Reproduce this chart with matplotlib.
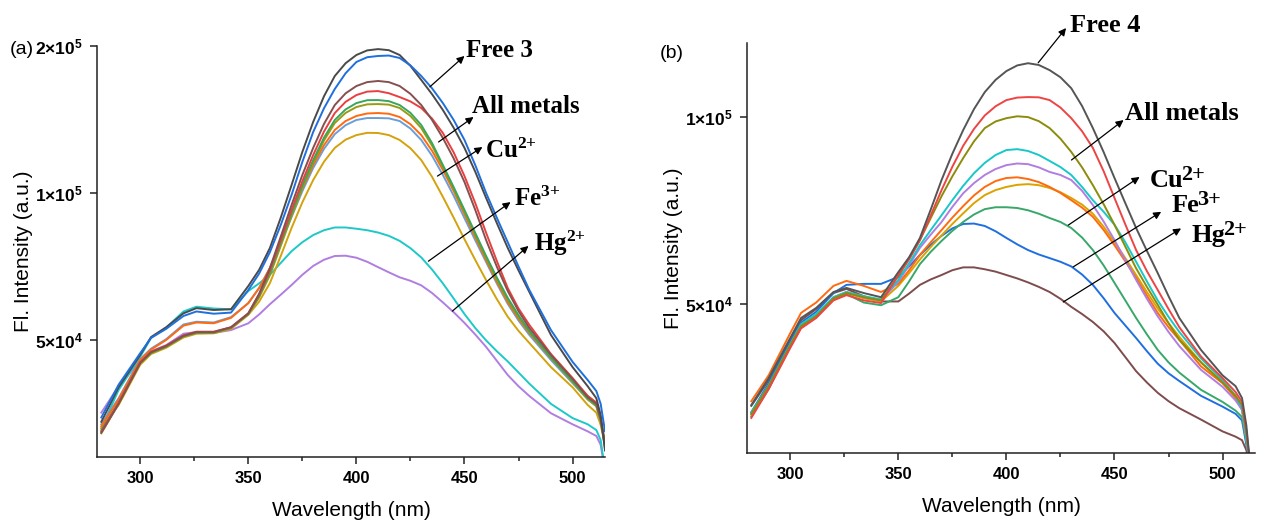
import numpy as np
import matplotlib
matplotlib.use('Agg')
import matplotlib.pyplot as plt
from matplotlib.ticker import FixedLocator, FixedFormatter, NullLocator

plt.rcParams['font.family'] = 'Liberation Sans'
plt.rcParams['mathtext.fontset'] = 'custom'
plt.rcParams['mathtext.rm'] = 'Liberation Serif:bold'
plt.rcParams['mathtext.it'] = 'Liberation Serif:bold'
plt.rcParams['mathtext.bf'] = 'Liberation Serif:bold'
plt.rcParams['mathtext.sf'] = 'Liberation Sans:bold'

# ---- panel (a): probe 3 with metal ions, intensity in units of 1e4 ----
wl_a = [282, 290, 300, 305, 312, 320, 326, 334, 342, 350, 355, 360, 365, 370, 375, 380, 385, 390,
        395, 400, 405, 410, 415, 420, 425, 430, 435, 440, 445, 450, 455, 460, 465, 470, 475, 480,
        490, 500, 507, 511, 513, 515]

a_free = [3.40, 4.00, 4.66, 5.07, 5.31, 5.67, 5.81, 5.76, 5.78,
          6.45, 6.96, 7.72, 8.90, 10.38, 12.14, 13.98, 15.78, 17.36, 18.44, 19.17, 19.59, 19.71, 19.61,
          19.17, 18.21, 17.04, 15.93, 14.79, 13.60, 12.37, 11.05, 9.77, 8.67, 7.72, 6.94, 6.27,
          5.12, 4.40, 4.02, 3.80, 3.51, 2.97]
a_blue = [3.47, 4.05, 4.70, 5.05, 5.27, 5.60, 5.72, 5.66, 5.69,
          6.33, 6.84, 7.57, 8.60, 9.91, 11.58, 13.33, 14.91, 16.33, 17.59, 18.55, 18.97, 19.08, 19.12,
          18.90, 18.25, 17.36, 16.38, 15.28, 14.11, 12.84, 11.40, 10.00, 8.89, 7.93, 7.07, 6.33,
          5.24, 4.51, 4.14, 3.93, 3.70, 3.25]
a_brown = [3.23, 3.70, 4.49, 4.72, 4.86, 5.10, 5.19, 5.19, 5.31,
           5.67, 6.22, 7.02, 8.14, 9.45, 10.89, 12.37, 13.85, 15.14, 16.00, 16.56, 16.87, 16.96, 16.87,
           16.56, 15.96, 15.14, 14.11, 12.96, 11.77, 10.53, 9.23, 8.01, 7.06, 6.30, 5.73, 5.29,
           4.66, 4.16, 3.82, 3.70, 3.45, 3.05]
a_red = [3.25, 3.72, 4.50, 4.73, 4.87, 5.11, 5.20, 5.20, 5.31,
         5.67, 6.19, 6.95, 8.00, 9.23, 10.57, 11.96, 13.36, 14.58, 15.37, 15.87, 16.13, 16.17, 16.01,
         15.72, 15.40, 14.93, 14.20, 13.27, 12.11, 10.83, 9.53, 8.29, 7.25, 6.39, 5.80, 5.37,
         4.68, 4.18, 3.84, 3.72, 3.46, 3.05]
a_green = [3.27, 3.72, 4.49, 4.71, 4.85, 5.09, 5.18, 5.18, 5.30,
           5.65, 6.15, 6.88, 7.91, 9.10, 10.38, 11.68, 12.98, 14.11, 14.83, 15.28, 15.49, 15.50, 15.42,
           15.14, 14.59, 13.78, 12.65, 11.41, 10.28, 9.23, 8.28, 7.43, 6.71, 6.10, 5.62, 5.22,
           4.61, 4.12, 3.80, 3.68, 3.43, 3.09]
a_olive = [3.22, 3.70, 4.48, 4.70, 4.84, 5.08, 5.17, 5.17, 5.29,
           5.65, 6.11, 6.79, 7.79, 8.97, 10.23, 11.52, 12.81, 13.91, 14.59, 15.00, 15.19, 15.21, 15.17,
           14.93, 14.38, 13.58, 12.50, 11.31, 10.19, 9.14, 8.20, 7.36, 6.64, 6.04, 5.57, 5.19,
           4.59, 4.10, 3.78, 3.66, 3.41, 3.05]
a_orange = [3.33, 3.78, 4.55, 4.78, 5.00, 5.35, 5.43, 5.41, 5.55,
            5.95, 6.39, 7.02, 7.93, 9.01, 10.21, 11.41, 12.53, 13.46, 14.04, 14.38, 14.55, 14.58, 14.53,
            14.31, 13.83, 13.14, 12.20, 11.15, 10.09, 9.05, 8.12, 7.29, 6.58, 5.98, 5.53, 5.17,
            4.59, 4.14, 3.84, 3.72, 3.46, 3.00]
a_steel = [3.36, 3.80, 4.57, 4.80, 5.02, 5.38, 5.45, 5.43, 5.57,
           5.95, 6.39, 7.02, 7.90, 8.93, 10.09, 11.25, 12.31, 13.20, 13.77, 14.11, 14.24, 14.24, 14.22,
           14.04, 13.55, 12.84, 11.92, 10.89, 9.87, 8.88, 8.00, 7.22, 6.52, 5.93, 5.48, 5.12,
           4.55, 4.08, 3.78, 3.66, 3.41, 3.03]
a_gold = [3.30, 3.68, 4.45, 4.68, 4.82, 5.06, 5.15, 5.16, 5.27,
          5.63, 5.99, 6.54, 7.43, 8.48, 9.57, 10.63, 11.59, 12.37, 12.86, 13.14, 13.28, 13.27, 13.14,
          12.84, 12.35, 11.68, 10.79, 9.82, 8.90, 8.04, 7.29, 6.63, 6.06, 5.58, 5.22, 4.93,
          4.40, 4.00, 3.68, 3.55, 3.35, 3.05]
a_cyan = [3.30, 3.95, 4.62, 5.05, 5.30, 5.72, 5.85, 5.80, 5.78,
          6.30, 6.53, 6.80, 7.19, 7.60, 7.93, 8.20, 8.39, 8.50, 8.50, 8.45, 8.39, 8.30, 8.17,
          7.98, 7.71, 7.38, 6.97, 6.53, 6.08, 5.65, 5.29, 4.99, 4.74, 4.52, 4.29, 4.07,
          3.70, 3.46, 3.36, 3.27, 3.12, 2.70]
a_purple = [3.55, 4.02, 4.53, 4.74, 4.88, 5.15, 5.19, 5.17, 5.24,
            5.41, 5.64, 5.92, 6.19, 6.48, 6.80, 7.09, 7.30, 7.43, 7.44, 7.37, 7.23, 7.05, 6.88,
            6.72, 6.61, 6.47, 6.24, 5.97, 5.70, 5.42, 5.13, 4.84, 4.53, 4.24, 4.02, 3.84,
            3.54, 3.36, 3.25, 3.18, 3.05, 2.70]

# ---- panel (b): probe 4 with metal ions ----
wl_b = [282, 290, 300, 305, 312, 320, 326, 334, 342, 350, 355, 360, 365, 370, 375, 380, 385, 390,
        395, 400, 405, 410, 415, 420, 425, 430, 435, 440, 445, 450, 455, 460, 465, 470, 475, 480,
        490, 500, 506, 509, 511, 513]

b_free = [3.44, 3.80, 4.41, 4.75, 4.93, 5.23, 5.31, 5.21, 5.13,
          5.63, 5.95, 6.39, 7.10, 7.92, 8.73, 9.53, 10.30, 10.97, 11.48, 11.86, 12.11, 12.21, 12.13,
          11.90, 11.59, 11.13, 10.42, 9.60, 8.78, 7.98, 7.27, 6.63, 6.09, 5.61, 5.15, 4.75,
          4.22, 3.84, 3.69, 3.53, 3.19, 2.70]
b_red = [3.28, 3.65, 4.25, 4.57, 4.75, 5.07, 5.17, 5.07, 5.02,
         5.57, 5.91, 6.34, 6.95, 7.63, 8.32, 8.99, 9.57, 10.06, 10.41, 10.65, 10.75, 10.77, 10.76,
         10.65, 10.36, 9.96, 9.49, 8.92, 8.18, 7.41, 6.72, 6.11, 5.65, 5.27, 4.91, 4.59,
         4.12, 3.80, 3.61, 3.48, 3.13, 2.70]
b_olive = [3.33, 3.69, 4.30, 4.61, 4.78, 5.11, 5.21, 5.13, 5.07,
           5.55, 5.91, 6.34, 6.88, 7.46, 8.03, 8.59, 9.14, 9.60, 9.84, 9.96, 10.03, 10.00, 9.85,
           9.60, 9.23, 8.79, 8.30, 7.77, 7.24, 6.71, 6.19, 5.71, 5.33, 4.99, 4.66, 4.38,
           4.03, 3.74, 3.56, 3.44, 3.10, 2.70]
b_cyan = [3.35, 3.70, 4.31, 4.64, 4.82, 5.13, 5.23, 5.15, 5.09,
          5.47, 5.82, 6.22, 6.58, 6.95, 7.35, 7.75, 8.12, 8.44, 8.69, 8.85, 8.88, 8.82, 8.69,
          8.50, 8.31, 8.07, 7.72, 7.35, 7.04, 6.71, 6.29, 5.85, 5.44, 5.07, 4.77, 4.51,
          4.09, 3.77, 3.56, 3.40, 3.04, 2.70]
b_purple = [3.33, 3.69, 4.30, 4.63, 4.80, 5.13, 5.23, 5.13, 5.07,
            5.43, 5.78, 6.16, 6.47, 6.78, 7.17, 7.54, 7.83, 8.07, 8.25, 8.37, 8.42, 8.40, 8.30,
            8.16, 8.07, 7.92, 7.61, 7.22, 6.79, 6.34, 5.89, 5.47, 5.10, 4.78, 4.51, 4.28,
            3.92, 3.68, 3.50, 3.38, 3.04, 2.70]
b_orange = [3.49, 3.84, 4.49, 4.84, 5.03, 5.35, 5.45, 5.35, 5.23,
            5.39, 5.67, 6.00, 6.29, 6.58, 6.89, 7.19, 7.48, 7.72, 7.89, 7.98, 8.00, 7.95, 7.86,
            7.72, 7.55, 7.35, 7.15, 6.91, 6.58, 6.22, 5.86, 5.51, 5.16, 4.84, 4.59, 4.38,
            3.97, 3.73, 3.53, 3.38, 3.05, 2.70]
b_gold = [3.32, 3.68, 4.28, 4.61, 4.78, 5.11, 5.21, 5.11, 5.05,
          5.35, 5.61, 5.90, 6.18, 6.45, 6.73, 7.00, 7.27, 7.49, 7.63, 7.72, 7.78, 7.80, 7.77,
          7.69, 7.57, 7.41, 7.23, 6.99, 6.66, 6.29, 5.93, 5.57, 5.23, 4.92, 4.66, 4.43,
          4.03, 3.74, 3.55, 3.40, 3.06, 2.70]
b_green = [3.30, 3.65, 4.27, 4.59, 4.76, 5.09, 5.19, 5.03, 4.98,
           5.13, 5.44, 5.80, 6.07, 6.32, 6.56, 6.78, 6.97, 7.11, 7.16, 7.16, 7.14, 7.08, 6.99,
           6.88, 6.78, 6.63, 6.40, 6.11, 5.77, 5.41, 5.07, 4.75, 4.47, 4.22, 4.03, 3.88,
           3.64, 3.48, 3.37, 3.29, 3.00, 2.70]
b_blue = [3.35, 3.73, 4.35, 4.67, 4.86, 5.21, 5.37, 5.39, 5.39,
          5.53, 5.75, 6.00, 6.23, 6.44, 6.62, 6.73, 6.74, 6.68, 6.55, 6.39, 6.24, 6.11, 6.01,
          5.93, 5.85, 5.75, 5.58, 5.37, 5.11, 4.84, 4.62, 4.41, 4.20, 4.01, 3.87, 3.76,
          3.56, 3.42, 3.33, 3.25, 2.97, 2.70]
b_brown = [3.43, 3.77, 4.38, 4.71, 4.91, 5.21, 5.29, 5.15, 5.05,
           5.05, 5.20, 5.37, 5.48, 5.57, 5.67, 5.73, 5.73, 5.69, 5.64, 5.57, 5.50, 5.42, 5.33,
           5.23, 5.10, 4.95, 4.82, 4.68, 4.52, 4.33, 4.11, 3.90, 3.74, 3.60, 3.49, 3.40,
           3.26, 3.12, 3.06, 3.02, 2.91, 2.70]

curves_a = [(a_purple, '#b07ee0'), (a_cyan, '#1ec8c8'), (a_gold, '#d4a20c'), (a_steel, '#6c9ed6'),
            (a_orange, '#ff6a10'), (a_olive, '#9a9a16'), (a_green, '#3aa55c'), (a_red, '#e9403f'),
            (a_brown, '#85504f'), (a_free, '#4a4a4a'), (a_blue, '#1f6fdc')]
curves_b = [(b_brown, '#7e4c4c'), (b_blue, '#1f6fe0'), (b_green, '#38a86a'), (b_gold, '#d9a300'),
            (b_orange, '#ff6a10'), (b_purple, '#b07ee0'), (b_cyan, '#18c8c8'), (b_olive, '#8c8c0c'),
            (b_red, '#ee4444'), (b_free, '#555555')]

# (tail on curve, arrow head, text position, label) in data units
notes_a = [((434, 16.5e4), (450, 19.08e4), (450.5, 19.0e4), 'Free 3'),
           ((438, 12.72e4), (454.2, 14.31e4), (453.7, 14.6e4), 'All metals'),
           ((437.5, 10.83e4), (458.3, 12.42e4), (459.7, 11.81e4), 'Cu$^{2{+}}$'),
           ((433.3, 7.25e4), (471.3, 9.58e4), (472.8, 9.42e4), 'Fe$^{3{+}}$'),
           ((444.4, 5.73e4), (479.6, 7.79e4), (482.1, 7.62e4), 'Hg$^{2{+}}$')]
notes_b = [((414.7, 12.23e4), (427.6, 13.91e4), (429.5, 13.70e4), 'Free 4', ''),
           ((430.1, 8.53e4), (454.2, 9.89e4), (455.0, 9.89e4), 'All metals', ''),
           ((428.6, 6.70e4), (461.6, 8.01e4), (466.2, 7.72e4), 'Cu', '2+'),
           ((430.9, 5.74e4), (471.6, 7.04e4), (476.2, 7.04e4), 'Fe', '3+'),
           ((426.3, 5.04e4), (480.8, 6.62e4), (485.4, 6.30e4), 'Hg', '2+')]

arrow_kw = dict(arrowstyle='-|>', color='black', lw=0.9, mutation_scale=11, shrinkA=0, shrinkB=0)


def style_axes(ax, top, yticks, ylabels):
    ax.set_yscale('log')
    ax.set_xlim(280, 515)
    ax.set_ylim(2.88e4, top)
    for side in ['top', 'right']:
        ax.spines[side].set_visible(False)
    for side in ['left', 'bottom']:
        ax.spines[side].set_linewidth(1.1)
        ax.spines[side].set_color('#222222')
    ax.xaxis.set_major_locator(FixedLocator([300, 350, 400, 450, 500]))
    ax.xaxis.set_minor_locator(FixedLocator([325, 375, 425, 475]))
    ax.yaxis.set_major_locator(FixedLocator(yticks))
    ax.yaxis.set_major_formatter(FixedFormatter(ylabels))
    ax.yaxis.set_minor_locator(NullLocator())
    ax.tick_params(axis='both', which='major', direction='out', length=5, width=1.1,
                   color='#222222', pad=5)
    ax.tick_params(axis='x', which='minor', direction='out', length=3, width=1.1, color='#222222')
    ax.tick_params(axis='x', labelsize=12)
    ax.tick_params(axis='y', labelsize=12.5)
    for lab in ax.get_xticklabels():
        lab.set_fontweight('bold')
    ax.set_xlabel('Wavelength (nm)', fontsize=15)
    ax.set_ylabel('Fl. Intensity (a.u.)', fontsize=15)
    ax.xaxis.set_label_coords(0.5, -0.108)
    ax.yaxis.set_label_coords(-0.126, 0.5)


fig = plt.figure(figsize=(12.61, 5.27), dpi=100)
ax1 = fig.add_axes([97 / 1261, 70 / 527, 508 / 1261, 411 / 527])
ax2 = fig.add_axes([747 / 1261, 74 / 527, 508 / 1261, 410 / 527])

for vals, c in curves_a:
    ax1.plot(wl_a, np.array(vals) * 1e4, color=c, lw=1.4)
for vals, c in curves_b:
    ax2.plot(wl_b, np.array(vals) * 1e4, color=c, lw=1.4)

style_axes(ax1, 2.0e5, [5e4, 1e5, 2e5],
           [r'$\mathsf{5{\times}10^{4}}$', r'$\mathsf{1{\times}10^{5}}$', r'$\mathsf{2{\times}10^{5}}$'])
style_axes(ax2, 1.316e5, [5e4, 1e5],
           [r'$\mathsf{5{\times}10^{4}}$', r'$\mathsf{1{\times}10^{5}}$'])

for tail, head, pos, label in notes_a:
    ax1.annotate('', xy=head, xytext=tail, arrowprops=arrow_kw, annotation_clip=False)
    ax1.text(pos[0], pos[1], label, fontsize=18, family='Liberation Serif', weight='bold',
             ha='left', va='baseline')

for tail, head, pos, label, sup in notes_b:
    ax2.annotate('', xy=head, xytext=tail, arrowprops=arrow_kw, annotation_clip=False)
    t = ax2.text(pos[0], pos[1], label, fontsize=19, family='Liberation Serif', weight='bold',
                 ha='left', va='baseline')
    if sup:
        ax2.annotate(sup, xy=(1, 1), xycoords=t, xytext=(-1.5, 2.5), textcoords='offset points',
                     fontsize=16, family='Liberation Serif', weight='bold', ha='left', va='top')

fig.text(10 / 1261, 1 - 50 / 527, '(a)', fontsize=14, va='center', ha='left')
fig.text(660 / 1261, 1 - 54 / 527, '(b)', fontsize=14, va='center', ha='left')

fig.savefig('out.png', dpi=100)
